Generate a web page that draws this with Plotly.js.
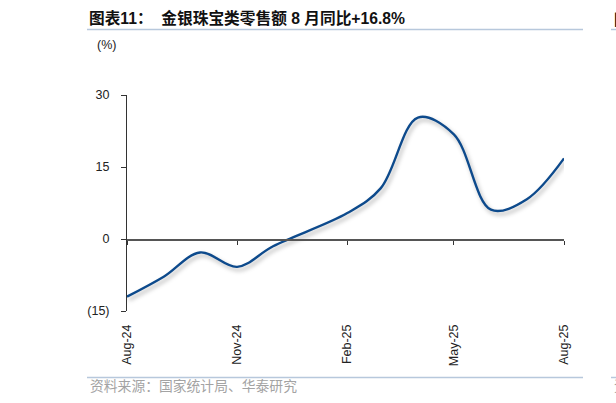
<!DOCTYPE html>
<html>
<head>
<meta charset="utf-8">
<script src="https://cdn.plot.ly/plotly-3.0.1.min.js"></script>
<style>
html,body{margin:0;padding:0;background:#fff;}
#chart{width:616px;height:403px;}
#chart .scatterlayer .trace:first-child path.js-line{filter:drop-shadow(2px 3px 2px rgba(0,0,0,0.3));}
</style>
</head>
<body>
<div id="chart"></div>
<script>
// Data (Jan-25 is reported together with Feb-25)
const months = ['2024-08-01','2024-09-01','2024-10-01','2024-11-01','2024-12-01','2025-02-01','2025-03-01','2025-04-01','2025-05-01','2025-06-01','2025-07-01','2025-08-01'];
const yoy = [-12.0, -7.8, -2.8, -5.8, -1.5, 5.4, 10.6, 25.3, 21.8, 6.1, 8.3, 16.8];
const xTickVals = ['2024-08-01','2024-11-01','2025-02-01','2025-05-01','2025-08-01'];
const xTickText = ['Aug-24','Nov-24','Feb-25','May-25','Aug-25'];
const yTickVals = [-15, 0, 15, 30];
const yTickText = ['(15)', '0', '15', '30'];
const titleText = '图表11：  金银珠宝类零售额 8 月同比+16.8%';
const unitText = '(%)';
const sourceText = '资料来源：国家统计局、华泰研究';

const W = 616, H = 403;
const M = {l:127, r:52, t:95, b:92};
const PW = W - M.l - M.r, PH = H - M.t - M.b;
const px = v => (v - M.l) / PW;
const py = v => (H - M.b - v) / PH;

const FONT = 'Liberation Sans, Arial, Noto Sans CJK SC, sans-serif';
const CJK = 'Liberation Sans, Arial, Noto Sans CJK SC, sans-serif';
const rule = '#b7c8dc';

const traces = [
  {x: months, y: yoy, type:'scatter', mode:'lines',
   line:{color:'#0d4a8c', width:2.4, shape:'spline', smoothing:1},
   hoverinfo:'skip', showlegend:false},
  {x: months, y: yoy, type:'scatter', mode:'lines', xaxis:'x2',
   line:{color:'rgba(0,0,0,0)', width:0}, hoverinfo:'skip', showlegend:false}
];

const range = ['2024-08-01','2025-08-01'];
const layout = {
  width: W, height: H,
  margin: {l:M.l, r:M.r, t:M.t, b:M.b, pad:0},
  paper_bgcolor:'#fff', plot_bgcolor:'rgba(0,0,0,0)',
  showlegend:false,
  font:{family:FONT, color:'#222', size:12},
  title:{text:'<b>'+titleText+'</b>', font:{family:CJK, size:15.7, color:'#111'},
         x:89/W, xanchor:'left', y:1-19/H, yanchor:'middle', xref:'container', yref:'container'},
  xaxis:{type:'date', range:range, tickvals:xTickVals, ticktext:xTickText,
         tickangle:-90, showline:false, ticks:'', showgrid:false, zeroline:false,
         tickfont:{size:12.5, color:'#222'}, ticklabelstandoff:10},
  xaxis2:{type:'date', range:range, overlaying:'x', anchor:'free', position:1/3,
          tickvals:xTickVals, showticklabels:false, ticks:'outside', ticklen:4,
          tickcolor:'#333', showline:true, linecolor:'#555', linewidth:1.5,
          showgrid:false, zeroline:false},
  yaxis:{range:[-15,30], tickvals:yTickVals, ticktext:yTickText,
         ticks:'outside', ticklen:5, tickcolor:'#333', showline:true, linecolor:'#333', linewidth:1,
         showgrid:false, zeroline:false, tickfont:{size:12.5, color:'#222'}, ticklabelstandoff:9},
  shapes:[
    {type:'line', xref:'paper', yref:'paper', x0:px(87), x1:px(583), y0:py(29.5), y1:py(29.5), line:{color:rule, width:1.5}},
    {type:'line', xref:'paper', yref:'paper', x0:px(611), x1:px(620), y0:py(29.5), y1:py(29.5), line:{color:rule, width:1.5}},
    {type:'line', xref:'paper', yref:'paper', x0:px(87), x1:px(583), y0:py(377.5), y1:py(377.5), line:{color:rule, width:1.5}},
    {type:'line', xref:'paper', yref:'paper', x0:px(611), x1:px(620), y0:py(377.5), y1:py(377.5), line:{color:rule, width:1.5}}
  ],
  annotations:[
    {text:unitText, xref:'paper', yref:'paper', x:px(95), y:py(45.5), xanchor:'left', yanchor:'middle',
     showarrow:false, font:{size:12.5, color:'#222'}},
    {text:sourceText, xref:'paper', yref:'paper', x:px(88), y:py(386), xanchor:'left', yanchor:'middle',
     showarrow:false, font:{family:CJK, size:13.8, color:'#a3a3a3'}},
    {text:'<b>图</b>', xref:'paper', yref:'paper', x:px(612), y:py(19), xanchor:'left', yanchor:'middle',
     showarrow:false, font:{family:CJK, size:15, color:'#111'}},
    {text:'资', xref:'paper', yref:'paper', x:px(612), y:py(386), xanchor:'left', yanchor:'middle',
     showarrow:false, font:{family:CJK, size:13.5, color:'#a3a3a3'}}
  ]
};

Plotly.newPlot('chart', traces, layout, {staticPlot:true, displayModeBar:false});
</script>
</body>
</html>
